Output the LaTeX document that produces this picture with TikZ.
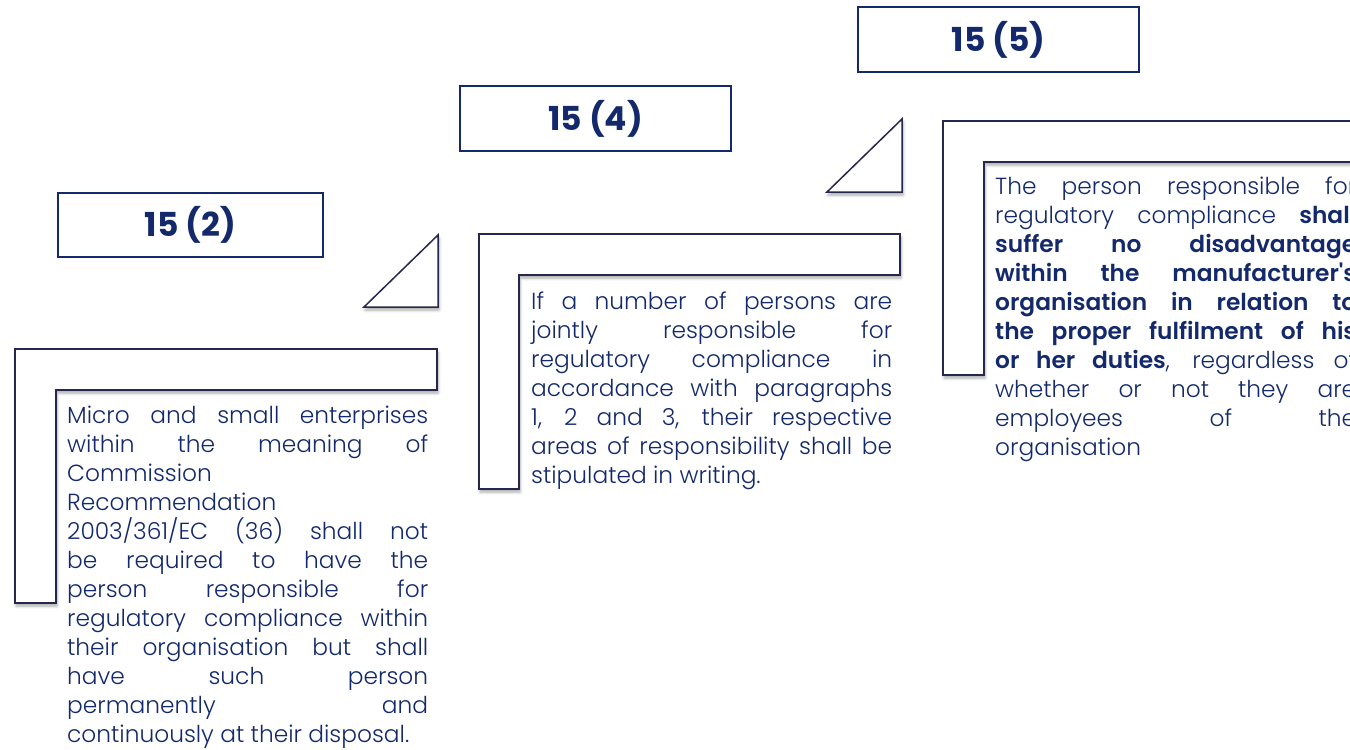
\documentclass[tikz,border=0pt]{standalone}
\usepackage{fontspec}
\usetikzlibrary{shadows.blur}
\IfFontExistsTF{Poppins Light}{%
  \IfFontExistsTF{Poppins SemiBold}%
    {\setmainfont{Poppins}[UprightFont=* Light,BoldFont=* SemiBold]}%
    {\setmainfont{Poppins}[UprightFont=* Light]}%
}{\setmainfont{Poppins}}
\newfontfamily\titlefont{Poppins}
\tolerance=10000\relax
\hbadness=10000\relax
\hyphenpenalty=10000\relax
\definecolor{navy}{HTML}{13296B}
\definecolor{framec}{HTML}{25284C}
\tikzset{
  frameshape/.style={draw=framec, line width=1.5pt, fill=white, line join=miter,
    blur shadow={shadow xshift=1pt, shadow yshift=-3pt, shadow blur radius=3pt, shadow opacity=35}},
  titlebox/.style={draw=navy, line width=1.4pt, fill=white, inner sep=0pt,
    font=\titlefont\bfseries\fontsize{33}{36}\selectfont, text=navy},
  bodytext/.style={text width=361pt, align=justify, inner sep=0pt, anchor=base west,
    text=navy, font=\fontsize{23.3}{29}\selectfont}
}
\begin{document}
\begin{tikzpicture}[x=1pt,y=-1pt]
\useasboundingbox (0,0) rectangle (1350,750);
% frames
\draw[frameshape] (15,349) -- (437,349) -- (437,390) -- (56,390) -- (56,603) -- (15,603) -- cycle;
\draw[frameshape] (479,234) -- (900,234) -- (900,275) -- (519,275) -- (519,489) -- (479,489) -- cycle;
\draw[frameshape] (943,121) -- (1370,121) -- (1370,162) -- (984,162) -- (984,375) -- (943,375) -- cycle;
% triangles
\draw[frameshape] (364,307) -- (438,307) -- (438,235) -- cycle;
\draw[frameshape] (827,192) -- (902,192) -- (902,119) -- cycle;
% titles
\node[titlebox, minimum width=265pt, minimum height=64pt] (t2) at (190.5,225) {15 (2)};
\node[titlebox, minimum width=271pt, minimum height=65pt] (t4) at (595.5,118.5) {15 (4)};
\node[titlebox, minimum width=281pt, minimum height=65pt] (t5) at (998.5,39.5) {15 (5)};
% body texts
\node[bodytext] (b2) at (67,423) {Micro and small enterprises\linebreak
within the meaning of\linebreak
Commission\\
Recommendation\\
2003/361/EC (36) shall not\linebreak
be required to have the\linebreak
person responsible for\linebreak
regulatory compliance within\linebreak
their organisation but shall\linebreak
have such person\linebreak
permanently and\linebreak
continuously at their disposal.};
\node[bodytext] (b4) at (531,309) {If a number of persons are\linebreak
jointly responsible for\linebreak
regulatory compliance in\linebreak
accordance with paragraphs\linebreak
1, 2 and 3, their respective\linebreak
areas of responsibility shall be\linebreak
stipulated in writing.};
\node[bodytext] (b5) at (995,194) {The person responsible for\linebreak
regulatory compliance \textbf{shall\linebreak
suffer no disadvantage\linebreak
within the manufacturer\textquotesingle s\linebreak
organisation in relation to\linebreak
the proper fulfilment of his\linebreak
or her duties}, regardless of\linebreak
whether or not they are\linebreak
employees of the\linebreak
organisation};
\end{tikzpicture}
\end{document}
